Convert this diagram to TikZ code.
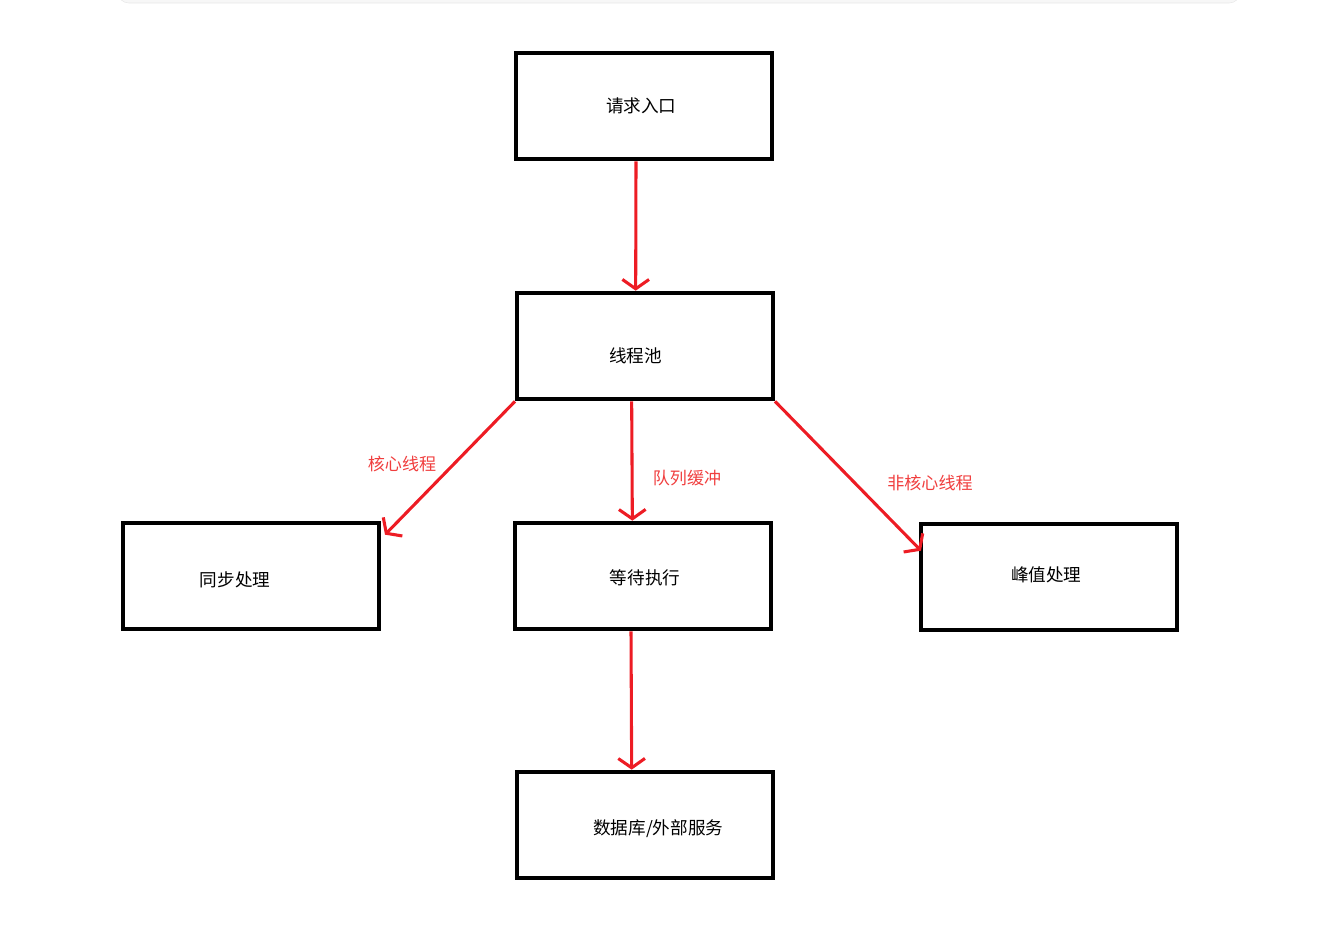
\documentclass[tikz,border=0pt]{standalone}
\usepackage{fontspec}
\setmainfont{Noto Sans CJK SC}
\usepackage{xcolor}
\usetikzlibrary{arrows.meta, positioning}

\definecolor{penred}{RGB}{237,28,36}
\definecolor{textred}{RGB}{240,62,62}

\begin{document}
\begin{tikzpicture}[
          x=0.75pt, y=-0.75pt,
          box/.style={draw, line width=3pt, minimum width=192pt, minimum height=80pt},
          inner/.style={font=\fontsize{13.2}{15}\selectfont},
          flow/.style={draw=penred, line width=2.3pt, -{Straight Barb[length=7pt, width=20pt]}},
          tag/.style={text=textred, font=\fontsize{12.8}{15}\selectfont}
        ]
          \useasboundingbox (0,0) rectangle (1319,946);
          % card edge at the top
          \fill[black!3, draw=black!9, rounded corners=8pt] (118,-30) rectangle (1240,3);

          \node[box, label={[inner, xshift=-2pt]center:请求入口}] (entry) at (644,106) {};
          \node[box, label={[inner, xshift=-7pt, yshift=-7pt]center:线程池}] (pool) at (645,346) {};
          \node[box, label={[inner, xshift=-12pt, yshift=-3pt]center:同步处理}] (sync) at (251,576) {};
          \node[box, label={[inner, xshift=1.5pt, yshift=-1.5pt]center:等待执行}] (wait) at (643,576) {};
          \node[box, label={[inner, xshift=-2pt, yshift=1.5pt]center:峰值处理}] (peak) at (1049,577) {};
          \node[box, label={[inner, xshift=10pt, yshift=-3pt]center:数据库/外部服务}] (store) at (645,825) {};

          \draw[flow] ([xshift=-6pt]entry.south) -- ([xshift=-7pt]pool.north);
          \draw[flow] ([xshift=-10pt]pool.south) -- ([xshift=-8pt]wait.north);
          \draw[flow] (pool.south west) -- ([shift={(4,14)}]sync.north east);
          \draw[flow] (pool.south east) -- ([shift={(2,29)}]peak.north west);
          \draw[flow] ([xshift=-9pt]wait.south) -- ([xshift=-10pt]store.north);

          \node[tag] (core) at (402,464) {核心线程};
          \node[tag] (queue) at (687,478) {队列缓冲};
          \node[tag] (extra) at (930,483) {非核心线程};
        \end{tikzpicture}
\end{document}
